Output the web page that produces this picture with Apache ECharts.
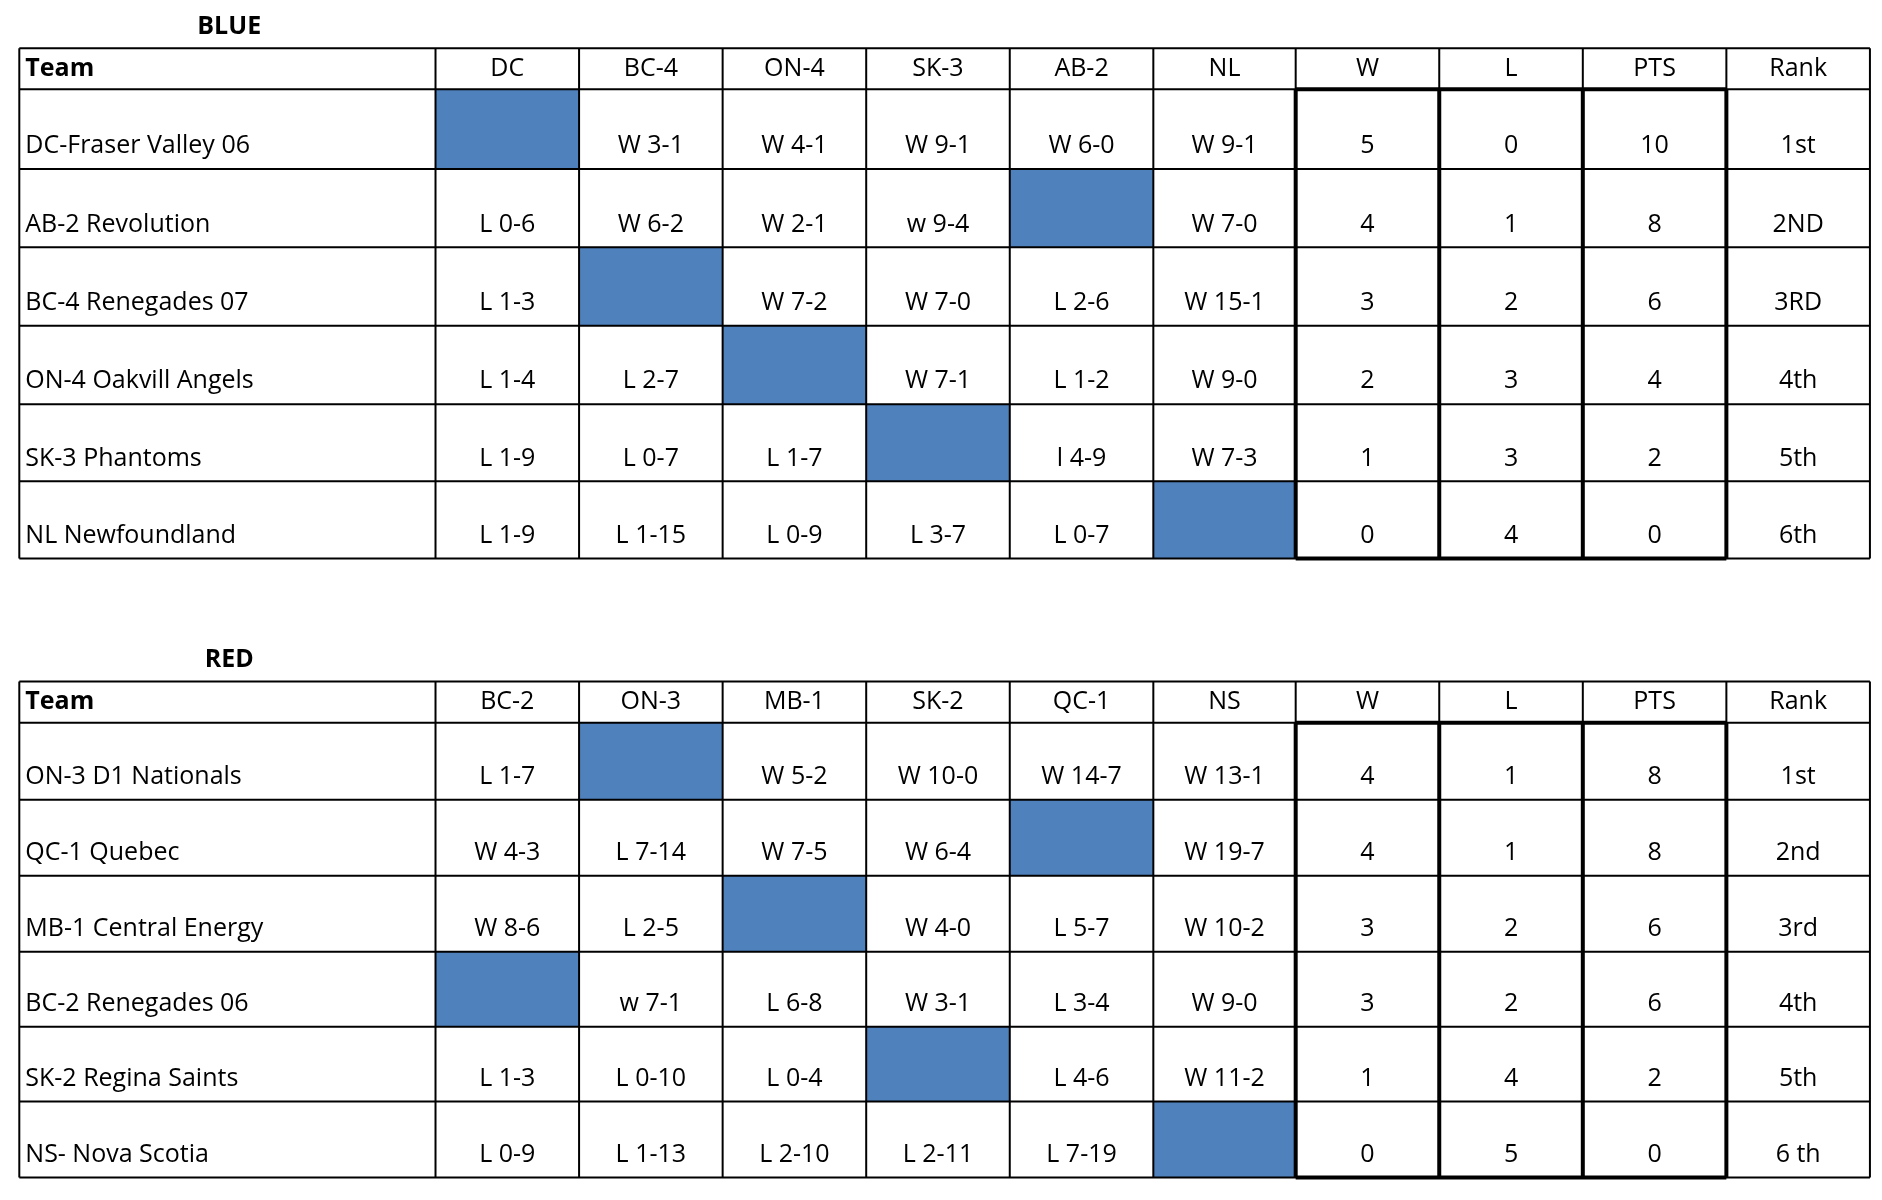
<!DOCTYPE html>
<html><head><meta charset="utf-8">
<script src="https://cdn.jsdelivr.net/npm/echarts@6/dist/echarts.min.js"></script>
<style>html,body{margin:0;background:#fff}#c{width:1882px;height:1200px}</style>
</head><body><div id="c"></div>
<script>
const blueTitle = 'BLUE';
const blueCols = ['DC','BC-4','ON-4','SK-3','AB-2','NL','W','L','PTS','Rank'];
const blueTeams = ['DC-Fraser Valley 06','AB-2 Revolution','BC-4 Renegades 07','ON-4 Oakvill Angels','SK-3 Phantoms','NL Newfoundland'];
const blueResults = [
  [null,'W 3-1','W 4-1','W 9-1','W 6-0','W 9-1'],
  ['L 0-6','W 6-2','W 2-1','w 9-4',null,'W 7-0'],
  ['L 1-3',null,'W 7-2','W 7-0','L 2-6','W 15-1'],
  ['L 1-4','L 2-7',null,'W 7-1','L 1-2','W 9-0'],
  ['L 1-9','L 0-7','L 1-7',null,'l 4-9','W 7-3'],
  ['L 1-9','L 1-15','L 0-9','L 3-7','L 0-7',null]
];
const blueW = [5,4,3,2,1,0];
const blueL = [0,1,2,3,3,4];
const bluePts = [10,8,6,4,2,0];
const blueRank = ['1st','2ND','3RD','4th','5th','6th'];

const redTitle = 'RED';
const redCols = ['BC-2','ON-3','MB-1','SK-2','QC-1','NS','W','L','PTS','Rank'];
const redTeams = ['ON-3 D1 Nationals','QC-1 Quebec','MB-1 Central Energy','BC-2 Renegades 06','SK-2 Regina Saints','NS- Nova Scotia'];
const redResults = [
  ['L 1-7',null,'W 5-2','W 10-0','W 14-7','W 13-1'],
  ['W 4-3','L 7-14','W 7-5','W 6-4',null,'W 19-7'],
  ['W 8-6','L 2-5',null,'W 4-0','L 5-7','W 10-2'],
  [null,'w 7-1','L 6-8','W 3-1','L 3-4','W 9-0'],
  ['L 1-3','L 0-10','L 0-4',null,'L 4-6','W 11-2'],
  ['L 0-9','L 1-13','L 2-10','L 2-11','L 7-19',null]
];
const redW = [4,4,3,3,1,0];
const redL = [1,1,2,2,4,5];
const redPts = [8,8,6,6,2,0];
const redRank = ['1st','2nd','3rd','4th','5th','6 th'];

const s = 1882/1560;
const colEdges = [16,361,480,599,718,837,956,1074,1193,1312,1431,1550];
const font = '"Open Sans","Noto Sans",sans-serif';
const fs = 25;
const g = [];

function table(title, titleY, cols, teams, results, W, L, P, R, rowEdges){
  g.push({type:'text',x:190*s,y:titleY*s,style:{text:title,font:'bold '+fs+'px '+font,fill:'#000',align:'center',verticalAlign:'middle'}});
  const X = colEdges.map(v=>v*s), Y = rowEdges.map(v=>v*s);
  results.forEach((row,i)=>row.forEach((v,j)=>{
    if(v===null) g.push({type:'rect',shape:{x:X[j+1],y:Y[i+1],width:X[j+2]-X[j+1],height:Y[i+2]-Y[i+1]},style:{fill:'#4F81BD'}});
  }));
  const hy = (Y[0]+Y[1])/2;
  g.push({type:'text',x:X[0]+6,y:hy,style:{text:'Team',font:'bold '+fs+'px '+font,fill:'#000',verticalAlign:'middle'}});
  cols.forEach((c,j)=>g.push({type:'text',x:(X[j+1]+X[j+2])/2,y:hy,style:{text:c,font:fs+'px '+font,fill:'#000',align:'center',verticalAlign:'middle'}}));
  teams.forEach((t,i)=>{
    const ty = Y[i+2]-19*s;
    g.push({type:'text',x:X[0]+6,y:ty,style:{text:t,font:fs+'px '+font,fill:'#000',verticalAlign:'middle'}});
    const vals = results[i].concat([W[i],L[i],P[i],R[i]]);
    vals.forEach((v,j)=>{ if(v!==null) g.push({type:'text',x:(X[j+1]+X[j+2])/2,y:ty,style:{text:String(v),font:fs+'px '+font,fill:'#000',align:'center',verticalAlign:'middle'}}); });
  });
  Y.forEach(y=>g.push({type:'line',shape:{x1:X[0],y1:y,x2:X[X.length-1],y2:y},style:{stroke:'#000',lineWidth:2}}));
  X.forEach(x=>g.push({type:'line',shape:{x1:x,y1:Y[0],x2:x,y2:Y[Y.length-1]},style:{stroke:'#000',lineWidth:2}}));
  for(let k=7;k<=10;k++) g.push({type:'line',shape:{x1:X[k],y1:Y[1],x2:X[k],y2:Y[Y.length-1]},style:{stroke:'#000',lineWidth:4}});
  [Y[1],Y[Y.length-1]].forEach(y=>g.push({type:'line',shape:{x1:X[7],y1:y,x2:X[10],y2:y},style:{stroke:'#000',lineWidth:4}}));
}
table(blueTitle,22,blueCols,blueTeams,blueResults,blueW,blueL,bluePts,blueRank,[40,74,140,205,270,335,399,463]);
table(redTitle,547,redCols,redTeams,redResults,redW,redL,redPts,redRank,[565,599,663,726,789,851,913,976]);

const chart = echarts.init(document.getElementById('c'));
chart.setOption({backgroundColor:'#fff',graphic:g});
</script></body></html>
